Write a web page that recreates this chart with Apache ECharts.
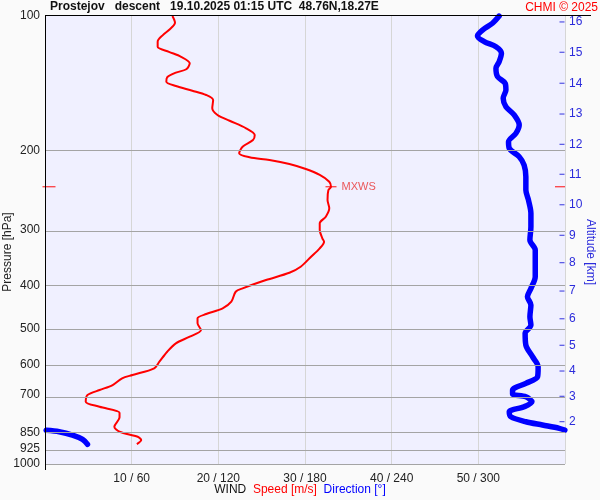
<!DOCTYPE html>
<html><head><meta charset="utf-8">
<script src="https://cdn.jsdelivr.net/npm/echarts@6/dist/echarts.min.js"></script>
<style>html,body{margin:0;padding:0;background:#fafafa}#c{width:600px;height:500px}</style>
</head><body><div id="c"></div>
<script>
// ---- data ----
const pressureTicks = [100, 200, 300, 400, 500, 600, 700, 850, 925, 1000];
const gridPressures = [200, 300, 400, 500, 600, 700, 850, 925, 1000];
const speedTicks = [10, 20, 30, 40, 50];
const altitudeKm = [2, 3, 4, 5, 6, 7, 8, 9, 10, 11, 12, 13, 14, 15, 16];
const altitudePressure = [804.4, 706.2, 620.1, 543.3, 474.0, 411.1, 355.3, 308.7, 263.8, 225.6, 193.4, 165.5, 141.3, 120.5, 103.1];

const speedPressure = [100, 103.5, 107.5, 110.3, 114.1, 117.1, 120.2, 123.3, 127.5, 131.5, 133.8, 137.0, 140.2, 143.3, 146.8, 150.1, 154.0, 160.7, 166.3, 171.3, 178.1, 184.4, 189.2, 195.8, 202.5, 206.7, 209.6, 214.0, 219.6, 226.4, 234.4, 240.5, 244.7, 257.5, 268.7, 280.5, 290.2, 300.4, 313.5, 319.0, 330.0, 344.6, 362.8, 374.2, 388.5, 405.5, 412.6, 434.3, 449.2, 462.6, 473.0, 485.3, 502.3, 519.9, 537.8, 561.5, 591.1, 611.5, 632.9, 643.7, 666.4, 683.8, 701.6, 726.2, 745.1, 768.4, 786.8, 825.7, 847.2, 869.2, 884.1, 902.5];
const speedValues = [14.7, 15.0, 14.3, 13.6, 13.0, 13.0, 14.3, 15.7, 16.7, 16.3, 15.1, 14.1, 14.0, 15.1, 17.0, 18.6, 19.4, 19.3, 19.9, 21.3, 23.2, 24.2, 24.0, 22.8, 22.4, 23.6, 25.9, 28.2, 30.1, 31.7, 32.8, 33.0, 32.7, 32.6, 32.8, 32.4, 31.7, 31.7, 32.0, 32.2, 31.7, 30.7, 29.5, 28.2, 25.5, 22.8, 22.0, 21.5, 20.5, 18.6, 17.6, 17.6, 18.0, 16.7, 15.1, 14.1, 13.2, 12.6, 10.1, 8.9, 7.8, 6.3, 4.9, 4.7, 6.3, 8.6, 8.6, 8.0, 8.6, 10.7, 11.1, 10.6];

const dirPressure = [100, 103.8, 107.5, 110.8, 114.1, 117.1, 121.1, 126.5, 130.8, 136.6, 141.3, 146.3, 152.6, 159.4, 166.3, 175.1, 182.8, 190.9, 197.4, 206.1, 215.1, 228.4, 244.7, 257.5, 275.7, 295.3, 316.2, 332.9, 356.5, 382.0, 405.5, 423.2, 441.7, 469.1, 489.6, 511.0, 542.6, 576.1, 606.5, 638.5, 660.6, 683.8, 698.0, 707.7, 726.2, 745.1, 764.5, 784.4, 804.8, 818.5, 832.5, 839.8, 841.0, 847.2, 861.7, 880.9, 903.9];
const dirValues = [314.4, 309.8, 302.9, 299.4, 304.1, 312.2, 316.0, 314.4, 312.2, 313.3, 318.6, 319.1, 317.2, 319.1, 324.8, 328.3, 326.0, 320.9, 321.4, 328.3, 331.7, 332.9, 332.9, 334.7, 336.4, 336.4, 335.7, 339.4, 339.4, 339.4, 336.4, 334.0, 336.4, 335.7, 336.4, 332.4, 332.9, 337.5, 341.4, 341.0, 332.9, 323.7, 323.7, 332.9, 337.1, 331.7, 321.4, 322.5, 332.9, 344.4, 356.0, 359.9, 0.8, 9.8, 19.0, 26.0, 29.4];

// ---- helpers ----
const lg = v => Math.log10(v);
const redData = speedValues.map((s, i) => [s, lg(speedPressure[i])]);
const blueData = [];
dirValues.forEach((d, i) => {
  if (i > 0 && Math.abs(d - dirValues[i - 1]) > 180) blueData.push(['-', '-']);
  blueData.push([d, lg(dirPressure[i])]);
});
let mi = 0;
speedValues.forEach((s, i) => { if (s > speedValues[mi]) mi = i; });
const mxLog = lg(speedPressure[mi]);

const FONT = 'Liberation Sans, Arial, sans-serif';
const BLUE_TXT = '#2b2bdb';
const chart = echarts.init(document.getElementById('c'), null, {renderer: 'canvas'});
chart.setOption({
  backgroundColor: '#fafafa',
  animation: false,
  grid: {left: 45, right: 35, top: 16, bottom: 36, show: true, backgroundColor: '#f0f0ff', borderWidth: 0, containLabel: false, outerBoundsMode: 'none'},
  xAxis: [{
    type: 'value', min: 0, max: 60, interval: 10,
    axisLine: {show: false}, axisTick: {show: false},
    splitLine: {show: true, lineStyle: {color: '#d6d6d6', width: 1}},
    axisLabel: {
      customValues: speedTicks, margin: 9, color: '#222', fontSize: 12, fontFamily: FONT,
      formatter: v => v + ' / ' + (v * 6)
    }
  }, {
    type: 'value', min: 0, max: 360, show: false
  }],
  yAxis: [{
    type: 'value', min: 2, max: 3, inverse: true,
    axisLine: {show: false},
    axisTick: {show: false},
    splitLine: {show: false},
    axisLabel: {
      customValues: pressureTicks.map(lg), margin: 5, color: '#222', fontSize: 12, fontFamily: FONT,
      formatter: v => String(Math.round(Math.pow(10, v)))
    }
  }, {
    type: 'value', min: 2, max: 3, inverse: true, position: 'right',
    axisLine: {show: true, lineStyle: {color: '#d0d0d0', width: 1}},
    axisTick: {show: false},
    splitLine: {show: false},
    axisLabel: {
      customValues: altitudePressure.map(lg), margin: 4, color: BLUE_TXT, fontSize: 12, fontFamily: FONT,
      formatter: v => {
        let best = 0;
        altitudePressure.forEach((p, i) => { if (Math.abs(lg(p) - v) < Math.abs(lg(altitudePressure[best]) - v)) best = i; });
        return String(altitudeKm[best]);
      }
    }
  }],
  series: [{
    type: 'line', name: 'grid', xAxisIndex: 0, yAxisIndex: 0, data: [], silent: true,
    markLine: {
      silent: true, symbol: 'none', label: {show: false},
      lineStyle: {color: '#a4a4a4', width: 1, type: 'solid'},
      data: gridPressures.map(p => ({yAxis: lg(p)}))
    }
  }, {
    type: 'scatter', name: 'altTicks', xAxisIndex: 0, yAxisIndex: 1, silent: true, clip: false,
    symbol: 'rect', symbolSize: [5, 1.2], symbolOffset: [-3, 0], itemStyle: {color: BLUE_TXT},
    data: altitudePressure.map(p => [60, lg(p)])
  }, {
    type: 'line', name: 'Direction', xAxisIndex: 1, yAxisIndex: 0, data: blueData,
    showSymbol: false, smooth: 0.3, connectNulls: false,
    lineStyle: {color: '#0000ff', width: 5.5, cap: 'round', join: 'round'}
  }, {
    type: 'line', name: 'Speed', xAxisIndex: 0, yAxisIndex: 0, data: redData,
    showSymbol: false, smooth: 0.3,
    lineStyle: {color: '#ff0000', width: 2}
  }, {
    type: 'scatter', xAxisIndex: 0, yAxisIndex: 0, silent: true, clip: false,
    symbol: 'rect', itemStyle: {color: '#ff0000'},
    data: [
      {value: [speedValues[mi], mxLog], symbolSize: [11, 1.2],
       label: {show: true, position: 'right', distance: 5, formatter: 'MXWS', color: '#e83030', fontSize: 11, fontFamily: FONT}},
      {value: [0, mxLog], symbolSize: [13, 1.2], symbolOffset: [4, 0]},
      {value: [60, mxLog], symbolSize: [10, 1.2], symbolOffset: [-5, 0]}
    ]
  }],
  graphic: [
    {type: 'line', shape: {x1: 45, y1: 15.5, x2: 591, y2: 15.5}, style: {stroke: '#000', lineWidth: 1}, silent: true, z: 10},
    {type: 'line', shape: {x1: 45.5, y1: 15, x2: 45.5, y2: 470}, style: {stroke: '#000', lineWidth: 1}, silent: true, z: 10},
    {type: 'text', left: 50, top: 1, style: {text: 'Prostejov   descent   19.10.2025 01:15 UTC  48.76N,18.27E', font: 'bold 12px ' + FONT, fill: '#111'}},
    {type: 'text', right: 2, top: 2, style: {text: 'CHMI © 2025', font: '12px ' + FONT, fill: '#ff0000'}},
    {type: 'text', x: 8, y: 252, rotation: Math.PI / 2, style: {text: 'Pressure [hPa]', font: '12px ' + FONT, fill: '#222', align: 'center', verticalAlign: 'middle'}},
    {type: 'text', x: 590, y: 252, rotation: -Math.PI / 2, style: {text: 'Altitude [km]', font: '12px ' + FONT, fill: BLUE_TXT, align: 'center', verticalAlign: 'middle'}},
    {type: 'text', left: 'center', top: 484, style: {
      text: '{a|WIND}  {b|Speed [m/s]}  {c|Direction [°]}',
      rich: {
        a: {fill: '#111', font: '12px ' + FONT},
        b: {fill: '#ff0000', font: '12px ' + FONT},
        c: {fill: '#0000ff', font: '12px ' + FONT}
      }
    }}
  ]
});
</script></body></html>
